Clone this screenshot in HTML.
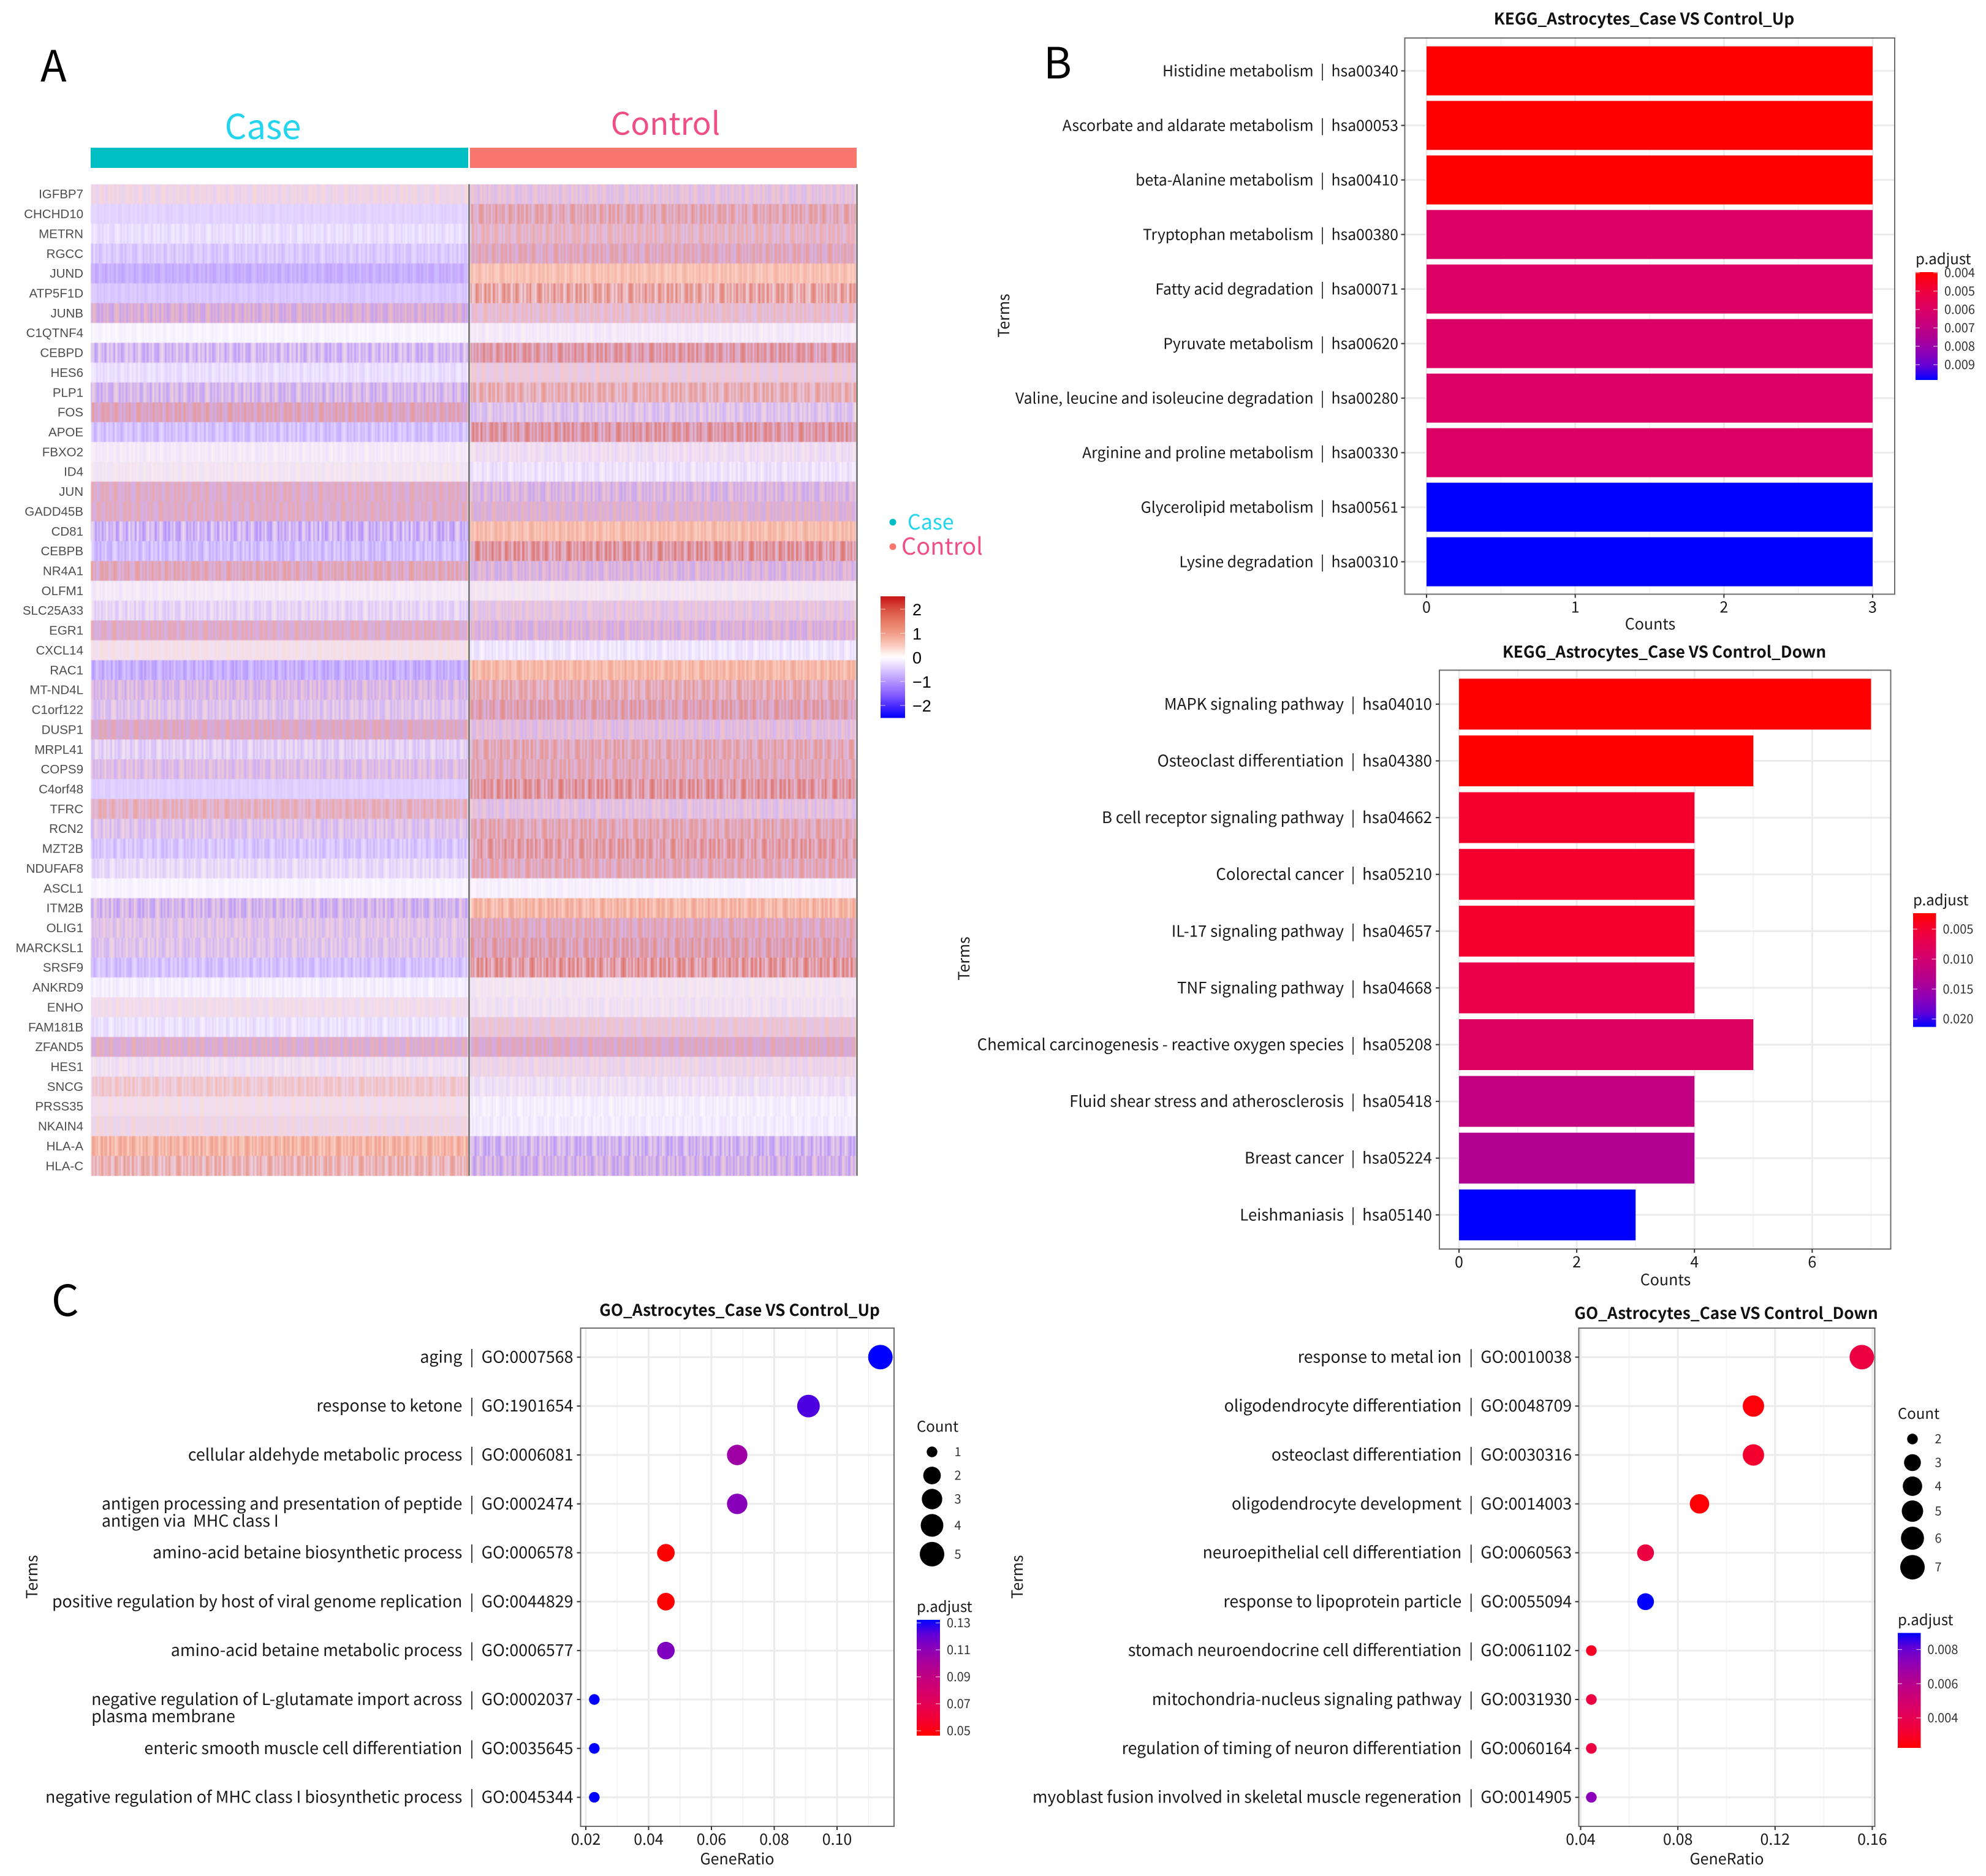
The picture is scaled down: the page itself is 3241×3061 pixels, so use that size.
<!DOCTYPE html>
<html lang="en">
<head>
<meta charset="utf-8">
<title>Astrocytes Case vs Control</title>
<style>
html,body{margin:0;padding:0;background:#fff;}
svg{display:block;}
text{font-family:"Noto Sans CJK SC","Liberation Sans",sans-serif;white-space:pre;}
.arial{font-family:"Liberation Sans",Arial,sans-serif;}
</style>
</head>
<body>
<svg id="figure" xmlns="http://www.w3.org/2000/svg" width="3241" height="3061" viewBox="0 0 3241 3061">
<rect x="0" y="0" width="3241" height="3061" fill="#ffffff"/>
<defs id="defs">
<filter id="heatSoften" x="0" y="0" width="1" height="1" filterUnits="objectBoundingBox" color-interpolation-filters="sRGB"><feGaussianBlur stdDeviation="1.3 0.4"/></filter>
</defs>
<text x="66" y="133" font-size="70" fill="#000">A</text>
<text x="1703" y="128" font-size="70" fill="#000">B</text>
<text x="84" y="2147" font-size="70" fill="#000">C</text>
<text x="429" y="227" font-size="56" fill="#22d4ee" text-anchor="middle">Case</text>
<text x="1086" y="220" font-size="51" fill="#f04f84" text-anchor="middle">Control</text>
<rect x="148" y="241" width="616" height="33" fill="#00bfc4"/>
<rect x="767" y="241" width="631" height="33" fill="#f8766d"/>
<circle cx="1457" cy="852" r="5.5" fill="#00bfc4"/>
<text x="1481" y="864" font-size="34" fill="#22d4ee">Case</text>
<circle cx="1457" cy="892" r="5.5" fill="#f8766d"/>
<text x="1471" y="905" font-size="38" fill="#f04f84">Control</text>
<text x="2683" y="40" font-size="26.2" font-weight="700" fill="#111" text-anchor="middle">KEGG_Astrocytes_Case VS Control_Up</text>
<text x="2716" y="1073" font-size="26.2" font-weight="700" fill="#111" text-anchor="middle">KEGG_Astrocytes_Case VS Control_Down</text>
<text x="1207" y="2147" font-size="26.2" font-weight="700" fill="#111" text-anchor="middle">GO_Astrocytes_Case VS Control_Up</text>
<text x="2817" y="2152" font-size="26.2" font-weight="700" fill="#111" text-anchor="middle">GO_Astrocytes_Case VS Control_Down</text>
<g id="root"></g>
</svg>
<script>
/* ---------- heatmap data (z-scores: the pale and strong stripe level per gene) ---------- */
const geneNames = ["IGFBP7","CHCHD10","METRN","RGCC","JUND","ATP5F1D","JUNB","C1QTNF4","CEBPD","HES6","PLP1","FOS","APOE","FBXO2","ID4","JUN","GADD45B","CD81","CEBPB","NR4A1","OLFM1","SLC25A33","EGR1","CXCL14","RAC1","MT-ND4L","C1orf122","DUSP1","MRPL41","COPS9","C4orf48","TFRC","RCN2","MZT2B","NDUFAF8","ASCL1","ITM2B","OLIG1","MARCKSL1","SRSF9","ANKRD9","ENHO","FAM181B","ZFAND5","HES1","SNCG","PRSS35","NKAIN4","HLA-A","HLA-C"];
const caseLow = [-.43,-.5,-.5,-.75,-.95,-.65,-.95,-.2,-1.1,-.5,-1.02,-.72,-.9,-.3,-.3,-.72,-.72,-1.25,-.95,-.65,-.3,-.65,-.72,-.27,-1.1,-.93,-.82,-.77,-.73,-.85,-.55,-.55,-.82,-.85,-.6,-.2,-1.1,-.77,-.82,-.9,-.3,-.37,-.5,-.78,-.4,-.32,-.33,-.4,.3,-.28];
const caseHigh = [.38,-.33,-.1,-.25,-.55,-.4,.6,.02,.2,-.1,.3,1.1,-.25,.1,.2,.9,.9,.15,-.25,1.1,.12,.15,.9,.33,-.4,.4,.3,.92,.15,.4,-.35,1,.3,-.2,.1,.02,.3,.35,.3,-.25,.02,.3,-.05,.82,.2,.75,.33,.4,1.2,1.3];
const controlLow = [-.68,-.52,-.55,-.65,.35,-.2,-.55,-.3,-.5,-.5,-.37,-.82,-.5,-.45,-.5,-.93,-.77,.35,-.4,-.9,-.3,-.65,-.9,-.45,.35,-.45,-.6,-.75,-.52,-.57,-.4,-.72,-.52,-.42,-.57,-.25,.3,-.65,-.6,-.33,-.3,-.38,-.52,-.77,-.47,-.45,-.3,-.35,-1.15,-1.12];
const controlHigh = [.5,1.3,.92,1.1,.85,1.7,.75,.1,1.65,.52,1.3,.3,1.7,.2,.05,.47,.75,.95,1.85,.52,.2,.47,.6,.02,1.05,1.3,1.4,.52,1.3,1.2,1.85,.47,1.3,1.65,1.2,.05,1.15,1.1,1.4,1.85,.2,.2,.6,.92,.35,.15,.02,-.02,.25,.35];
const heatLegendTicks = [2,1,0,-1,-2];

/* ---------- KEGG up ---------- */
const keggUpTerms = ["Histidine metabolism | hsa00340","Ascorbate and aldarate metabolism | hsa00053","beta-Alanine metabolism | hsa00410","Tryptophan metabolism | hsa00380","Fatty acid degradation | hsa00071","Pyruvate metabolism | hsa00620","Valine, leucine and isoleucine degradation | hsa00280","Arginine and proline metabolism | hsa00330","Glycerolipid metabolism | hsa00561","Lysine degradation | hsa00310"];
const keggUpCounts = [3,3,3,3,3,3,3,3,3,3];
const keggUpPadjust = [.00397,.00397,.00397,.0060,.0060,.0060,.0060,.0060,.00983,.00983];
const keggUpXTicks = [0,1,2,3];
const keggUpLegendTicks = [.004,.005,.006,.007,.008,.009];

/* ---------- KEGG down ---------- */
const keggDownTerms = ["MAPK signaling pathway | hsa04010","Osteoclast differentiation | hsa04380","B cell receptor signaling pathway | hsa04662","Colorectal cancer | hsa05210","IL-17 signaling pathway | hsa04657","TNF signaling pathway | hsa04668","Chemical carcinogenesis - reactive oxygen species | hsa05208","Fluid shear stress and atherosclerosis | hsa05418","Breast cancer | hsa05224","Leishmaniasis | hsa05140"];
const keggDownCounts = [7,5,4,4,4,4,5,4,4,3];
const keggDownPadjust = [.00234,.00240,.0046,.0046,.0046,.0066,.0086,.0118,.0134,.02134];
const keggDownXTicks = [0,2,4,6];
const keggDownLegendTicks = [.005,.010,.015,.020];

/* ---------- GO up ---------- */
const goUpTerms = ["aging | GO:0007568","response to ketone | GO:1901654","cellular aldehyde metabolic process | GO:0006081","antigen processing and presentation of peptide | GO:0002474","amino-acid betaine biosynthetic process | GO:0006578","positive regulation by host of viral genome replication | GO:0044829","amino-acid betaine metabolic process | GO:0006577","negative regulation of L-glutamate import across | GO:0002037","enteric smooth muscle cell differentiation | GO:0035645","negative regulation of MHC class I biosynthetic process | GO:0045344"];
const goUpWrapped = ["","","","antigen via  MHC class I","","","","plasma membrane","",""];
const goUpRatio = [.1138,.0909,.0682,.0682,.0455,.0455,.0455,.0227,.0227,.0227];
const goUpCount = [5,4,3,3,2,2,2,1,1,1];
const goUpPadjust = [.1323,.124,.105,.112,.048,.048,.114,.1323,.1323,.1323];
const goUpXTicks = [.02,.04,.06,.08,.10];
const goUpCountLegend = [1,2,3,4,5];
const goUpLegendTicks = [.13,.11,.09,.07,.05];

/* ---------- GO down ---------- */
const goDownTerms = ["response to metal ion | GO:0010038","oligodendrocyte differentiation | GO:0048709","osteoclast differentiation | GO:0030316","oligodendrocyte development | GO:0014003","neuroepithelial cell differentiation | GO:0060563","response to lipoprotein particle | GO:0055094","stomach neuroendocrine cell differentiation | GO:0061102","mitochondria-nucleus signaling pathway | GO:0031930","regulation of timing of neuron differentiation | GO:0060164","myoblast fusion involved in skeletal muscle regeneration | GO:0014905"];
const goDownRatio = [.1557,.1111,.1111,.0889,.0667,.0667,.0444,.0444,.0444,.0444];
const goDownCount = [7,5,5,4,3,3,2,2,2,2];
const goDownPadjust = [.0036,.00240,.0031,.00232,.0036,.00897,.0029,.0036,.0036,.0073];
const goDownXTicks = [.04,.08,.12,.16];
const goDownCountLegend = [2,3,4,5,6,7];
const goDownLegendTicks = [.008,.006,.004];

/* ---------- helpers ---------- */
const NS = "http://www.w3.org/2000/svg";
const root = document.getElementById("root");
const defs = document.getElementById("defs");
function make(tag, attrs, parent) {
  const el = document.createElementNS(NS, tag);
  for (const k in attrs) el.setAttribute(k, attrs[k]);
  (parent || root).appendChild(el);
  return el;
}
function linear(d0, d1, r0, r1) { return v => r0 + (v - d0) / (d1 - d0) * (r1 - r0); }
function hex(c) { return [parseInt(c.slice(1,3),16), parseInt(c.slice(3,5),16), parseInt(c.slice(5,7),16)]; }
function ramp(stops, t) {
  t = Math.max(stops[0][0], Math.min(stops[stops.length-1][0], t));
  for (let i = 1; i < stops.length; i++) {
    if (t <= stops[i][0]) {
      const f = (t - stops[i-1][0]) / (stops[i][0] - stops[i-1][0]);
      const a = hex(stops[i-1][1]), b = hex(stops[i][1]);
      return "rgb(" + a.map((v,j) => Math.round(v + (b[j]-v)*f)).join(",") + ")";
    }
  }
  return stops[stops.length-1][1];
}
const pStops = [[0,"#ff0000"],[.125,"#f4002e"],[.25,"#e6004f"],[.375,"#d6006a"],[.5,"#c2007f"],[.625,"#aa0099"],[.75,"#8c00b8"],[.875,"#6000d6"],[1,"#0000ff"]];
function pColor(t) { return ramp(pStops, t); }
const zStops = [[-2.5,"#0000ff"],[-2,"#4d2bff"],[-1.5,"#8a62ff"],[-1,"#b494ff"],[-.5,"#dccaff"],[0,"#ffffff"],[.5,"#fbcabd"],[1,"#f19c88"],[1.5,"#e67a63"],[2,"#d95040"],[2.5,"#c81818"]];
function zColor(z) { return ramp(zStops, z); }

/* ---------- heatmap ---------- */
const heatTop = 300.5, rowH = 32.36, caseX = linear(0,1,148,764), ctrlX = linear(0,1,767,1397);
const stripeRuns = [2,2,1,2,3,1,2,3,1,2,2,2,3,1,1,3,2,2,1,2,3,3,1,1,2,2,3,1,2,2,1,3,2,2,1,2,1,1,3,2,2,3,1,2,2,1,3,2,3,1,1,2,2,3,2,1,2,1,3,2,1,3,1,2,3,2,2,1,1,2,3,2,2,3,1,1,2,2];
const stripePeriod = stripeRuns.reduce((a, b) => a + b, 0);
function cellPattern(id, low, high, phase) {
  const p = make("pattern", {id: id, patternUnits: "userSpaceOnUse", width: stripePeriod, height: 40, patternTransform: "translate(" + phase + ",0)"}, defs);
  make("rect", {x: 0, y: 0, width: stripePeriod, height: 40, fill: zColor(low)}, p);
  let x = 0;
  stripeRuns.forEach((w, i) => {
    if (i % 2 === 1) make("rect", {x: x, y: 0, width: w, height: 40, fill: zColor(high)}, p);
    x += w;
  });
}
const heatGroup = make("g", {});


const heatCells = make("g", {filter: "url(#heatSoften)"}, heatGroup);


geneNames.forEach((gene, i) => {
  const y = heatTop + i * rowH;
  cellPattern("pc" + i, caseLow[i], caseHigh[i], i * 37);
  cellPattern("pk" + i, controlLow[i], controlHigh[i], i * 61 + 11);
  const c = make("rect", {x: caseX(0), y: y, width: caseX(1) - caseX(0), height: rowH + .4, fill: "url(#pc" + i + ")"}, heatCells);
  
  
  const k = make("rect", {x: ctrlX(0), y: y, width: ctrlX(1) - ctrlX(0), height: rowH + .4, fill: "url(#pk" + i + ")"}, heatCells);
  
  
  const t = make("text", {x: 136, y: y + rowH/2 + 7, "font-size": 20.5, fill: "#4d4d4d", "text-anchor": "end", class: "arial"}, heatGroup);
  t.textContent = gene;
  
  
});
const divA = make("rect", {x: 764, y: heatTop, width: 3, height: rowH * geneNames.length, fill: "#808080"});


const divB = make("rect", {x: 1397, y: heatTop, width: 3, height: rowH * geneNames.length, fill: "#808080"});



/* heat colour bar */
const heatLegendY = linear(2, -2, 994, 1151);
const hg = make("linearGradient", {id: "heatGrad", x1: 0, y1: 0, x2: 0, y2: 1}, defs);
for (let s = 0; s <= 40; s++) {
  const yy = 973 + s / 40 * 198.5;
  const z = 2 - (yy - 994) / (1151 - 994) * 4;
  make("stop", {offset: s / 40, "stop-color": zColor(z)}, hg);
}
const heatBar = make("rect", {x: 1437, y: 973, width: 40, height: 198.5, fill: "url(#heatGrad)"});


heatLegendTicks.forEach(v => {
  const y = heatLegendY(v);
  [[1437,1445],[1469,1477]].forEach(seg => {
    const l = make("line", {x1: seg[0], x2: seg[1], y1: y, y2: y, stroke: "#fff", "stroke-opacity": .7, "stroke-width": 1});
    
    
  });
  const t = make("text", {x: 1489, y: y + 10, "font-size": 27, fill: "#000", class: "arial"});
  t.textContent = v < 0 ? "\u2212" + Math.abs(v) : String(v);
  
  
});

/* ---------- shared panel drawing ---------- */
function panelFrame(cfg, xScale) {
  const g = make("g", {});
  
  
  cfg.minorTicks.forEach(v => {
    const l = make("line", {x1: xScale(v), x2: xScale(v), y1: cfg.top, y2: cfg.bottom, stroke: "#f2f2f2", "stroke-width": 1.5}, g);
    
    
  });
  cfg.ticks.forEach(v => {
    const l = make("line", {x1: xScale(v), x2: xScale(v), y1: cfg.top, y2: cfg.bottom, stroke: "#ebebeb", "stroke-width": 3}, g);
    
    
  });
  cfg.terms.forEach((_, i) => {
    const y = cfg.rowY(i);
    const l = make("line", {x1: cfg.left, x2: cfg.right, y1: y, y2: y, stroke: "#ebebeb", "stroke-width": 3}, g);
    
    
  });
  return g;
}
function panelAxes(cfg, xScale, g) {
  const border = make("rect", {x: cfg.left, y: cfg.top, width: cfg.right - cfg.left, height: cfg.bottom - cfg.top, fill: "none", stroke: "#6e6e6e", "stroke-width": 2}, g);
  
  
  cfg.ticks.forEach(v => {
    const x = xScale(v);
    const l = make("line", {x1: x, x2: x, y1: cfg.bottom, y2: cfg.bottom + 6, stroke: "#333", "stroke-width": 2}, g);
    
    
    const t = make("text", {x: x, y: cfg.bottom + 30, "font-size": 25, fill: "#1a1a1a", "text-anchor": "middle"}, g);
    t.textContent = cfg.tickFmt(v);
    
    
  });
  cfg.terms.forEach((term, i) => {
    const y = cfg.rowY(i);
    const l = make("line", {x1: cfg.left - 6, x2: cfg.left, y1: y, y2: y, stroke: "#333", "stroke-width": 2}, g);
    
    
    const t = make("text", {x: cfg.labelRight, y: y + 9, "font-size": cfg.labelSize, fill: "#1a1a1a", "text-anchor": "end"}, g);
    t.textContent = term.replace(" | ", "  |  ");
    
    
    if (cfg.wrapped && cfg.wrapped[i]) {
      const w = t.getComputedTextLength();
      const t2 = make("text", {x: cfg.labelRight - w, y: y + 9 + 28, "font-size": cfg.labelSize, fill: "#1a1a1a"}, g);
      t2.textContent = cfg.wrapped[i];
      
      
    }
  });
  const xt = make("text", {x: cfg.xTitleX, y: cfg.xTitleY, "font-size": 25, fill: "#1a1a1a", "text-anchor": "middle"}, g);
  xt.textContent = cfg.xTitle;
  
  
  const yt = make("text", {x: 0, y: 0, "font-size": 25, fill: "#1a1a1a", "text-anchor": "middle", transform: "translate(" + cfg.yTitleX + "," + cfg.yTitleY + ") rotate(-90)"}, g);
  yt.textContent = "Terms";
  
  
}
function pLegend(cfg) {
  const L = cfg.legend;
  const g = make("g", {});
  
  
  const id = cfg.name + "-grad";
  const grad = make("linearGradient", {id: id, x1: 0, y1: 0, x2: 0, y2: 1}, defs);
  for (let s = 0; s <= 16; s++) {
    const t = L.blueTop ? 1 - s / 16 : s / 16;
    make("stop", {offset: s / 16, "stop-color": pColor(t)}, grad);
  }
  const title = make("text", {x: L.x, y: L.top - 13, "font-size": 24, fill: "#1a1a1a"}, g);
  title.textContent = "p.adjust";
  
  
  const bar = make("rect", {x: L.x, y: L.top, width: L.w, height: L.bottom - L.top, fill: "url(#" + id + ")"}, g);
  
  
  L.ticks.forEach(v => {
    const y = L.scale(v);
    [[L.x, L.x + 7], [L.x + L.w - 7, L.x + L.w]].forEach(seg => {
      const l = make("line", {x1: seg[0], x2: seg[1], y1: y, y2: y, stroke: "#fff", "stroke-opacity": .7, "stroke-width": 1.2}, g);
      
      
    });
    const t = make("text", {x: L.x + L.w + 11, y: y + 7, "font-size": 20, fill: "#333"}, g);
    t.textContent = L.fmt(v);
    
    
  });
}

/* ---------- bar charts ---------- */
function barChart(cfg, counts, padj) {
  const xScale = linear(0, cfg.xMaxVal, cfg.x0, cfg.xMaxPx);
  const tScale = linear(cfg.pMin, cfg.pMax, 0, 1);
  const g = panelFrame(cfg, xScale);
  counts.forEach((c, i) => {
    const b = make("rect", {x: xScale(0), y: cfg.rowY(i) - cfg.barH / 2, width: xScale(c) - xScale(0), height: cfg.barH, fill: pColor(tScale(padj[i]))}, g);
    
    
  });
  panelAxes(cfg, xScale, g);
  pLegend(cfg);
}
barChart({
  name: "kegg-up", terms: keggUpTerms, left: 2292.5, right: 3092, top: 62, bottom: 969.5,
  x0: 2328, xMaxVal: 3, xMaxPx: 3056, pMin: .00397, pMax: .00983, barH: 80,
  rowY: i => 115.6 + i * 89, ticks: keggUpXTicks, minorTicks: [.5,1.5,2.5], tickFmt: v => String(v),
  labelRight: 2282, labelSize: 24.8, xTitle: "Counts", xTitleX: 2693, xTitleY: 1027, yTitleX: 1647, yTitleY: 515,
  legend: {x: 3126, w: 36, top: 444, bottom: 620, ticks: keggUpLegendTicks, scale: linear(.004, .009, 445, 595), fmt: v => v.toFixed(3)}
}, keggUpCounts, keggUpPadjust);
barChart({
  name: "kegg-down", terms: keggDownTerms, left: 2349, right: 3085.5, top: 1093.5, bottom: 2038,
  x0: 2381, xMaxVal: 7, xMaxPx: 3053.4, pMin: .00234, pMax: .02134, barH: 83,
  rowY: i => 1148.9 + i * 92.6, ticks: keggDownXTicks, minorTicks: [1,3,5,7], tickFmt: v => String(v),
  labelRight: 2337, labelSize: 25.8, xTitle: "Counts", xTitleX: 2718, xTitleY: 2097, yTitleX: 1582, yTitleY: 1564,
  legend: {x: 3122, w: 37.5, top: 1490, bottom: 1675.6, ticks: keggDownLegendTicks, scale: linear(.005, .020, 1516, 1662.7), fmt: v => v.toFixed(3)}
}, keggDownCounts, keggDownPadjust);

/* ---------- dot charts ---------- */
function dotChart(cfg, ratio, count, padj) {
  const xScale = linear(cfg.d0, cfg.d1, cfg.r0, cfg.r1);
  const tScale = linear(cfg.pMin, cfg.pMax, 0, 1);
  const rScale = c => 8.7 + 11.3 * Math.sqrt((c - cfg.cMin) / (cfg.cMax - cfg.cMin));
  const g = panelFrame(cfg, xScale);
  ratio.forEach((v, i) => {
    const d = make("circle", {cx: xScale(v), cy: cfg.rowY(i), r: rScale(count[i]), fill: pColor(tScale(padj[i]))}, g);
    
    
  });
  panelAxes(cfg, xScale, g);
  const C = cfg.countLegend;
  const lg = make("g", {});
  
  
  const ct = make("text", {x: C.titleX, y: C.titleY, "font-size": 24, fill: "#1a1a1a"}, lg);
  ct.textContent = "Count";
  
  
  let y = C.firstY;
  C.values.forEach((c, i) => {
    const r = rScale(c);
    if (i > 0) y += Math.max(38.5, (rScale(C.values[i-1]) + r) * 1.22);
    const dot = make("circle", {cx: C.x, cy: y, r: r, fill: "#000"}, lg);
    
    
    const t = make("text", {x: C.labelX, y: y + 7, "font-size": 20, fill: "#333", "text-anchor": "middle"}, lg);
    t.textContent = String(c);
    
    
  });
  pLegend(cfg);
}
dotChart({
  name: "go-up", terms: goUpTerms, wrapped: goUpWrapped, left: 947.5, right: 1459, top: 2167, bottom: 2980,
  d0: .02, d1: .10, r0: 956, r1: 1366, cMin: 1, cMax: 5, pMin: .048, pMax: .1323,
  rowY: i => 2214.4 + i * 79.8, ticks: goUpXTicks, minorTicks: [.03,.05,.07,.09,.11], tickFmt: v => v.toFixed(2),
  labelRight: 935.5, labelSize: 26.8, xTitle: "GeneRatio", xTitleX: 1203, xTitleY: 3042, yTitleX: 61, yTitleY: 2573,
  countLegend: {x: 1521, labelX: 1563, titleX: 1496, titleY: 2336, firstY: 2369, values: goUpCountLegend},
  legend: {x: 1496, w: 38, top: 2643, bottom: 2832, blueTop: true, ticks: goUpLegendTicks, scale: linear(.13, .05, 2648, 2824), fmt: v => v.toFixed(2)}
}, goUpRatio, goUpCount, goUpPadjust);
dotChart({
  name: "go-down", terms: goDownTerms, left: 2576.5, right: 3059.5, top: 2167, bottom: 2980,
  d0: .04, d1: .16, r0: 2579.5, r1: 3055.4, cMin: 2, cMax: 7, pMin: .00224, pMax: .00897,
  rowY: i => 2214.4 + i * 79.8, ticks: goDownXTicks, minorTicks: [.06,.10,.14], tickFmt: v => v.toFixed(2),
  labelRight: 2565, labelSize: 26.6, xTitle: "GeneRatio", xTitleX: 2818, xTitleY: 3042, yTitleX: 1669, yTitleY: 2573,
  countLegend: {x: 3121, labelX: 3163, titleX: 3097, titleY: 2315, firstY: 2348, values: goDownCountLegend},
  legend: {x: 3097, w: 37.5, top: 2664.4, bottom: 2852, blueTop: true, ticks: goDownLegendTicks, scale: linear(.008, .004, 2691.5, 2803), fmt: v => v.toFixed(3)}
}, goDownRatio, goDownCount, goDownPadjust);
</script>
</body>
</html>
